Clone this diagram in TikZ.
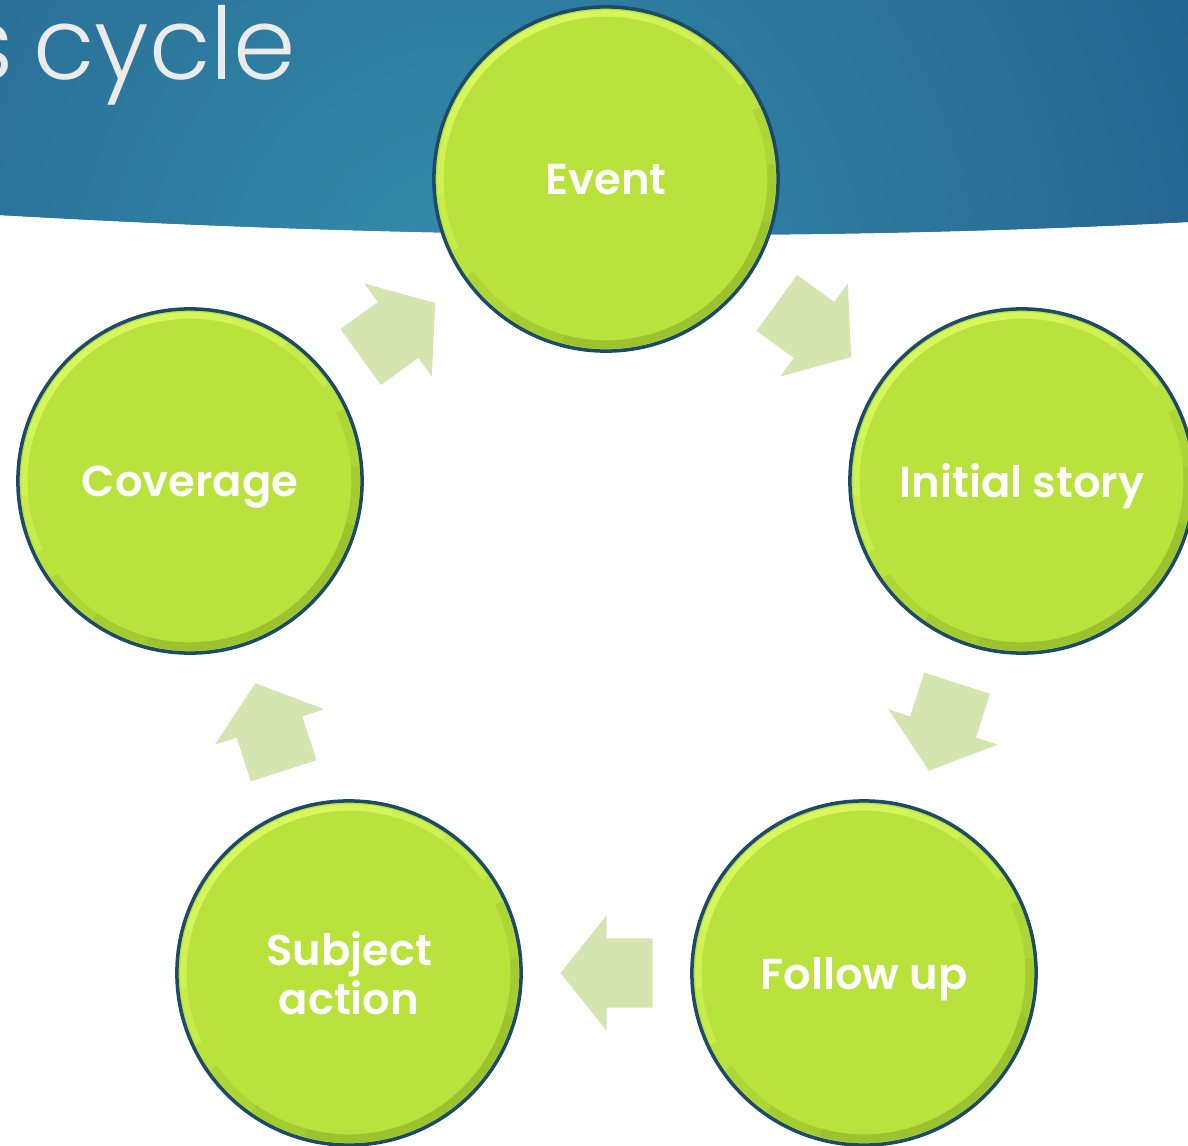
\documentclass[tikz,border=0pt]{standalone}
\usepackage{fontspec}
\setmainfont{Poppins}
\newfontfamily\titlefont{Poppins Light}
\newfontfamily\stagefont{Poppins SemiBold}
\usepackage{tikz}
\usetikzlibrary{calc}

\begin{document}
\begin{tikzpicture}[x=0.01cm, y=0.01cm,
  stage/.style={circle, minimum size=3.44cm, inner sep=0pt, fill=leafgreen,
    draw=rimblue, line width=1pt, text=white, align=center, text depth=0pt,
    font=\stagefont\fontsize{12.3}{13.8}\selectfont}]
  % Define colors
  \definecolor{leafgreen}{RGB}{185,226,61}
  \definecolor{rimblue}{RGB}{28,74,104}
  \definecolor{glowgreen}{RGB}{224,252,100}
  \definecolor{shadegreen}{RGB}{100,130,20}
  \definecolor{flowgreen}{RGB}{212,229,176}
  \definecolor{banddark}{RGB}{32,87,136}
  \definecolor{bandlight}{RGB}{52,140,170}
  \definecolor{titlegray}{RGB}{235,235,235}

  \useasboundingbox (0,0) rectangle (1188,-1146);
  \clip (0,0) rectangle (1188,-1146);

  % Title band
  \begin{scope}
    \clip (0,0) -- (1188,0) -- (1188,-222) .. controls (800,-242) and (400,-238) .. (0,-215) -- cycle;
    \fill[banddark] (0,0) rectangle (1188,-250);
    \shade[inner color=bandlight, outer color=banddark] (470,-290) circle (1050);
  \end{scope}
  \node[anchor=base east, inner sep=0pt, text=titlegray,
    font={\titlefont\fontsize{28.5}{30}\selectfont\spaceskip=0.2em\relax}]
    (ttl) at (297,-80) {s cycle};

  % Stages
  \node[stage] (ev)  at (606,-179)  {Event};
  \node[stage] (ini) at (1022,-481) {Initial story};
  \node[stage] (fol) at (864,-973)  {Follow up};
  \node[stage] (sub) at (349,-973)  {Subject\\action};
  \node[stage] (cov) at (190,-481)  {Coverage};

  % Bevel on each circle, built up from overlapping arcs
  \foreach \n in {ev, ini, fol, sub, cov} {
    \foreach \s/\e in {205/35, 185/55, 165/75, 145/95}
      \draw[glowgreen, line width=1.8pt, opacity=0.38]
        ($(\n)+(\s:1.655cm)$) arc[start angle=\s, end angle=\e, radius=1.655cm];
    \foreach \s/\e in {25/-145, 5/-125, -15/-105}
      \draw[shadegreen, line width=2.4pt, opacity=0.12]
        ($(\n)+(\s:1.655cm)$) arc[start angle=\s, end angle=\e, radius=1.655cm];
  }

  % Block arrows between stages
  \foreach \a/\b in {ev/ini, ini/fol, fol/sub, sub/cov, cov/ev} {
    \coordinate (mid)  at ($(\a)!0.5!(\b)$);
    \coordinate (tail) at ($(mid)!-0.46cm!(\b)$);
    \coordinate (tip)  at ($(mid)!0.46cm!(\b)$);
    \fill[flowgreen] ($(tail)!0.345cm!90:(\b)$) -- ($(mid)!0.345cm!90:(\b)$)
      -- ($(mid)!0.575cm!90:(\b)$) -- (tip) -- ($(mid)!0.575cm!-90:(\b)$)
      -- ($(mid)!0.345cm!-90:(\b)$) -- ($(tail)!0.345cm!-90:(\b)$) -- cycle;
  }
\end{tikzpicture}
\end{document}
